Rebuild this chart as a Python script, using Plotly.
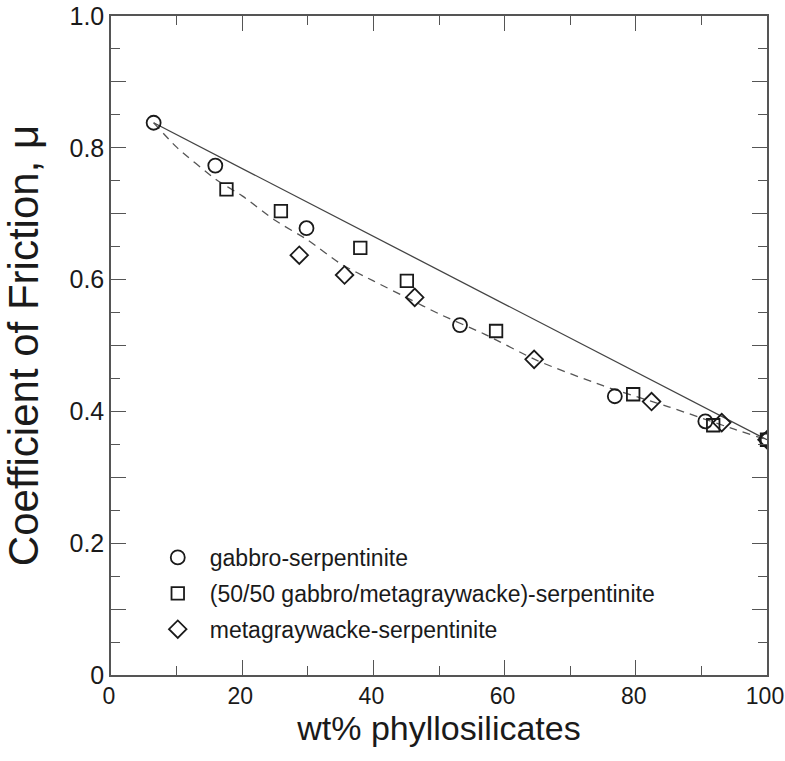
import plotly.graph_objects as go

# --- data ---
gabbro_x = [6.5, 15.9, 29.8, 53.2, 76.8, 90.6, 100]
gabbro_y = [0.838, 0.773, 0.678, 0.531, 0.423, 0.385, 0.357]

mix_x = [17.6, 25.9, 38.0, 45.1, 58.7, 79.6, 91.8, 100]
mix_y = [0.737, 0.704, 0.648, 0.598, 0.522, 0.426, 0.379, 0.357]

meta_x = [28.7, 35.6, 46.3, 64.5, 82.4, 93.1, 100]
meta_y = [0.637, 0.607, 0.573, 0.479, 0.415, 0.383, 0.357]

trend_solid_x = [6.5, 100]
trend_solid_y = [0.838, 0.357]

trend_dash_x = [6.5, 10, 16, 20, 25, 30, 35, 40, 45, 50, 57, 65, 75, 85, 95, 100]
trend_dash_y = [0.838, 0.801, 0.752, 0.727, 0.690, 0.660, 0.624, 0.598, 0.573,
                0.548, 0.517, 0.477, 0.439, 0.407, 0.373, 0.357]

names = ["gabbro-serpentinite",
         "(50/50 gabbro/metagraywacke)-serpentinite",
         "metagraywacke-serpentinite"]

y_tickvals = [0, 0.1, 0.2, 0.3, 0.4, 0.5, 0.6, 0.7, 0.8, 0.9, 1.0]
y_ticktext = ["0", "", "0.2", "", "0.4", "", "0.6", "", "0.8", "", "1.0"]
x_tickvals = [0, 20, 40, 60, 80, 100]
x_ticktext = ["0", "20", "40", "60", "80", "100"]

INK = "#1a1a1a"
AXIS = "#555555"
FONT = "Liberation Sans, Arial, Helvetica, sans-serif"

fig = go.Figure()

fig.add_trace(go.Scatter(x=trend_solid_x, y=trend_solid_y, mode="lines",
                         line=dict(color="#444444", width=1.3),
                         showlegend=False, hoverinfo="skip"))
fig.add_trace(go.Scatter(x=trend_dash_x, y=trend_dash_y, mode="lines",
                         line=dict(color="#555555", width=1.3, dash="8px,6px",
                                   shape="spline", smoothing=0.6),
                         showlegend=False, hoverinfo="skip"))

fig.add_trace(go.Scatter(x=gabbro_x, y=gabbro_y, mode="markers", name=names[0],
                         legendgroup="a",
                         marker=dict(symbol="circle-open", size=14,
                                     color=INK, line=dict(width=1.8, color=INK))))
fig.add_trace(go.Scatter(x=mix_x, y=mix_y, mode="markers", name=names[1],
                         legendgroup="b",
                         marker=dict(symbol="square-open", size=12.5,
                                     color=INK, line=dict(width=1.8, color=INK))))
fig.add_trace(go.Scatter(x=meta_x, y=meta_y, mode="markers", name=names[2],
                         legendgroup="c",
                         marker=dict(symbol="diamond-open", size=13.5,
                                     color=INK, line=dict(width=1.8, color=INK))))

fig.update_layout(
    width=785, height=761,
    margin=dict(l=111, r=18, t=16, b=86, autoexpand=False),
    paper_bgcolor="white", plot_bgcolor="white",
    font=dict(family=FONT, color=INK),
    showlegend=True,
    legend=dict(x=0.053, y=0.211, xanchor="left", yanchor="top",
                bgcolor="rgba(0,0,0,0)", font=dict(size=23, family=FONT),
                itemwidth=54, tracegroupgap=3, traceorder="grouped"),
)

fig.update_xaxes(
    range=[0, 100], showgrid=False, zeroline=False, automargin=False,
    showline=True, linecolor=AXIS, linewidth=1.5, mirror="ticks",
    ticks="inside", ticklen=15, tickwidth=1.3, tickcolor=AXIS,
    tickvals=x_tickvals, ticktext=x_ticktext, ticklabeloverflow="allow",
    ticklabelshift=-2,
    tickfont=dict(size=23, family=FONT, color=INK),
    minor=dict(dtick=10, ticks="inside", ticklen=9, tickwidth=1.3, tickcolor=AXIS),
    title=dict(text="wt% phyllosilicates", font=dict(size=34, family=FONT, color=INK),
               standoff=2),
)
fig.update_yaxes(
    range=[0, 1.0], showgrid=False, zeroline=False, automargin=False,
    showline=True, linecolor=AXIS, linewidth=1.5, mirror="ticks",
    ticks="inside", ticklen=15, tickwidth=1.3, tickcolor=AXIS,
    tickvals=y_tickvals, ticktext=y_ticktext, ticklabeloverflow="allow",
    tickfont=dict(size=25, family=FONT, color=INK),
    minor=dict(dtick=0.05, ticks="inside", ticklen=9, tickwidth=1.3, tickcolor=AXIS),
    title=dict(text="Coefficient of Friction, μ", font=dict(size=42, family=FONT, color=INK),
               standoff=18),
)

# remove the default 8px page margin so the figure fills the 785x761 window exactly
fig.write_html("out.html", config={"displayModeBar": False},
               post_script="document.body.style.margin='0';")
